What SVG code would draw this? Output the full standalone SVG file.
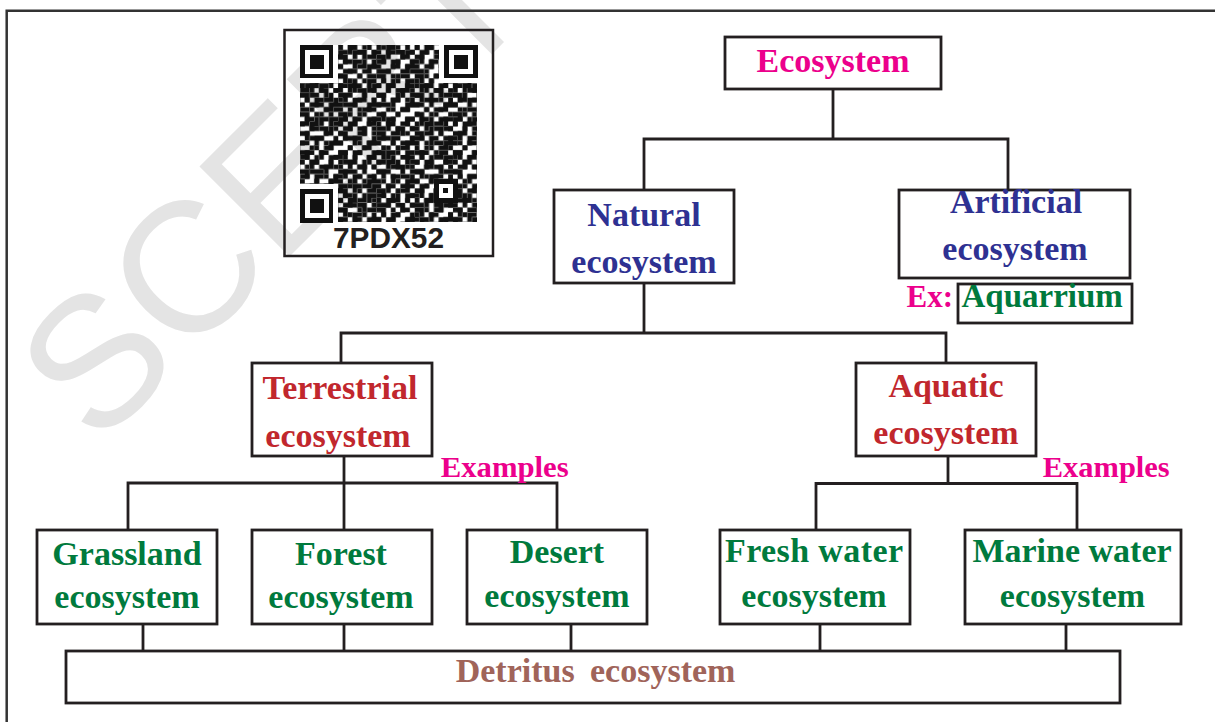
<svg xmlns="http://www.w3.org/2000/svg" width="1215" height="722" viewBox="0 0 1215 722">
<style>
.box{fill:#fff;stroke:#231f20;stroke-width:2.8}
.con{fill:none;stroke:#231f20;stroke-width:2.8}
.t{font-family:"Liberation Serif","Times New Roman",serif;font-weight:bold;font-size:34px;text-anchor:middle}
.mag{fill:#ec008c}.blue{fill:#2e3192}.red{fill:#c1272d}.green{fill:#007a3d}.brown{fill:#a0645a}
.wm{font-family:"Liberation Sans",Arial,sans-serif;font-size:185px;fill:#e4e4e4}
</style>
<defs>
<pattern id="qa" patternUnits="userSpaceOnUse" width="8" height="8" patternTransform="translate(300,45) scale(4.78)">
<path d="M0 0h1v1h-1z M2 0h2v1h-2z M6 0h1v1h-1z M2 1h1v1h-1z M4 1h2v1h-2z M7 1h1v1h-1z M0 2h2v1h-2z M5 2h1v1h-1z M1 3h1v1h-1z M3 3h2v1h-2z M7 3h1v1h-1z M0 4h1v1h-1z M3 4h1v1h-1z M6 4h2v1h-2z M2 5h1v1h-1z M5 5h2v1h-2z M0 6h2v1h-2z M4 6h1v1h-1z M1 7h1v1h-1z M3 7h1v1h-1z M6 7h2v1h-2z" fill="#111"/>
</pattern>
<pattern id="qb" patternUnits="userSpaceOnUse" width="7" height="7" patternTransform="translate(314.34,54.56) scale(4.78)">
<path d="M1 0h1v1h-1z M4 0h2v1h-2z M0 1h1v1h-1z M3 1h1v1h-1z M6 1h1v1h-1z M2 2h2v1h-2z M5 2h1v1h-1z M0 3h2v1h-2z M6 3h1v1h-1z M2 4h1v1h-1z M4 4h2v1h-2z M0 5h1v1h-1z M3 5h1v1h-1z M1 6h2v1h-2z M5 6h2v1h-2z" fill="#111"/>
</pattern>
</defs>
<rect width="1215" height="722" fill="#fff"/>
<text class="wm" x="97" y="449" transform="rotate(-45 97 449)">SCERT</text>
<path d="M6.7 722 V10.7 H1215" fill="none" stroke="#333" stroke-width="2.5"/>

<g id="qr">
<rect x="284.5" y="30" width="208.5" height="226" fill="none" stroke="#231f20" stroke-width="2.5"/>
<g shape-rendering="crispEdges">
<rect x="300" y="45" width="176.9" height="176.9" fill="url(#qa)"/>
<rect x="300" y="45" width="176.9" height="176.9" fill="url(#qb)"/>
<rect x="300" y="45" width="38.24" height="38.24" fill="#fff"/>
<rect x="438.66" y="45" width="38.24" height="38.24" fill="#fff"/>
<rect x="300" y="183.66" width="38.24" height="38.24" fill="#fff"/>
<rect x="433.84" y="178.84" width="23.9" height="23.9" fill="#fff"/>
<g fill="none" stroke="#111" stroke-width="4.78">
<rect x="302.39" y="47.39" width="28.68" height="28.68"/>
<rect x="446.56" y="47.39" width="28.68" height="28.68"/>
<rect x="302.39" y="191.56" width="28.68" height="28.68"/>
<rect x="436.23" y="181.23" width="19.12" height="19.12"/>
</g>
<g fill="#111">
<rect x="309.56" y="54.56" width="14.34" height="14.34"/>
<rect x="453.73" y="54.56" width="14.34" height="14.34"/>
<rect x="309.56" y="198.73" width="14.34" height="14.34"/>
<rect x="443.4" y="188.4" width="4.78" height="4.78"/>
</g>
</g>
<text x="388.5" y="248" font-family="'Liberation Sans',Arial,sans-serif" font-weight="bold" font-size="30" text-anchor="middle" fill="#231f20" textLength="111" lengthAdjust="spacingAndGlyphs">7PDX52</text>
</g>

<g id="connectors" class="con">
<path d="M833 89 V139"/>
<path d="M644 190 V139 H1008 V190"/>
<path d="M644 283 V333"/>
<path d="M341 363 V333 H946 V363"/>
<path d="M344 456 V483"/>
<path d="M128 530 V483 H557 V530"/>
<path d="M344 483 V530"/>
<path d="M948 456 V483.5"/>
<path d="M816 530 V483.5 H1077 V530"/>
<path d="M143 624 V651 M344 624 V651 M571 624 V651 M820 624 V651 M1066 624 V651"/>
</g>

<g id="ecosystem">
<rect class="box" x="725" y="37" width="216" height="52"/>
<text class="t mag" x="833" y="72">Ecosystem</text>
</g>
<g id="natural">
<rect class="box" x="554" y="190" width="180" height="93"/>
<text class="t blue" x="644" y="226">Natural</text>
<text class="t blue" x="644" y="273">ecosystem</text>
</g>
<g id="artificial">
<rect class="box" x="899" y="190" width="231" height="88"/>
<text class="t blue" x="1016" y="213">Artificial</text>
<text class="t blue" x="1015" y="260">ecosystem</text>
</g>
<g id="example-aquarium">
<text class="t mag" x="906.5" y="307" style="text-anchor:start;font-size:31px">Ex:</text>
<rect class="box" x="958" y="284" width="174" height="39"/>
<text class="t green" x="961.5" y="307" style="text-anchor:start;font-size:33px">Aquarrium</text>
</g>
<g id="terrestrial">
<rect class="box" x="252" y="363" width="180" height="93"/>
<text class="t red" x="340" y="399">Terrestrial</text>
<text class="t red" x="338" y="446.5">ecosystem</text>
</g>
<g id="aquatic">
<rect class="box" x="856" y="363" width="180" height="93"/>
<text class="t red" x="946" y="396.5">Aquatic</text>
<text class="t red" x="946" y="444">ecosystem</text>
</g>
<g id="examples-labels">
<text class="t mag" x="440.7" y="476.7" style="text-anchor:start;font-size:29px" textLength="128" lengthAdjust="spacingAndGlyphs">Examples</text>
<text class="t mag" x="1042.7" y="476.7" style="text-anchor:start;font-size:29px" textLength="127" lengthAdjust="spacingAndGlyphs">Examples</text>
</g>
<g id="grassland">
<rect class="box" x="37" y="530" width="180" height="94"/>
<text class="t green" x="127" y="565">Grassland</text>
<text class="t green" x="127" y="608">ecosystem</text>
</g>
<g id="forest">
<rect class="box" x="252" y="530" width="180" height="94"/>
<text class="t green" x="341" y="565">Forest</text>
<text class="t green" x="341" y="608">ecosystem</text>
</g>
<g id="desert">
<rect class="box" x="467" y="530" width="180" height="94"/>
<text class="t green" x="557" y="563">Desert</text>
<text class="t green" x="557" y="607">ecosystem</text>
</g>
<g id="freshwater">
<rect class="box" x="720" y="530" width="190" height="94"/>
<text class="t green" x="814" y="562" textLength="178" lengthAdjust="spacing">Fresh water</text>
<text class="t green" x="814" y="607">ecosystem</text>
</g>
<g id="marinewater">
<rect class="box" x="965" y="530" width="216" height="94"/>
<text class="t green" x="1072" y="562">Marine water</text>
<text class="t green" x="1072.5" y="607">ecosystem</text>
</g>
<g id="detritus">
<rect class="box" x="66" y="651" width="1054" height="52"/>
<text class="t brown" y="681.7" style="text-anchor:start"><tspan x="455.7">Detritus</tspan><tspan x="590">ecosystem</tspan></text>
</g>
</svg>
